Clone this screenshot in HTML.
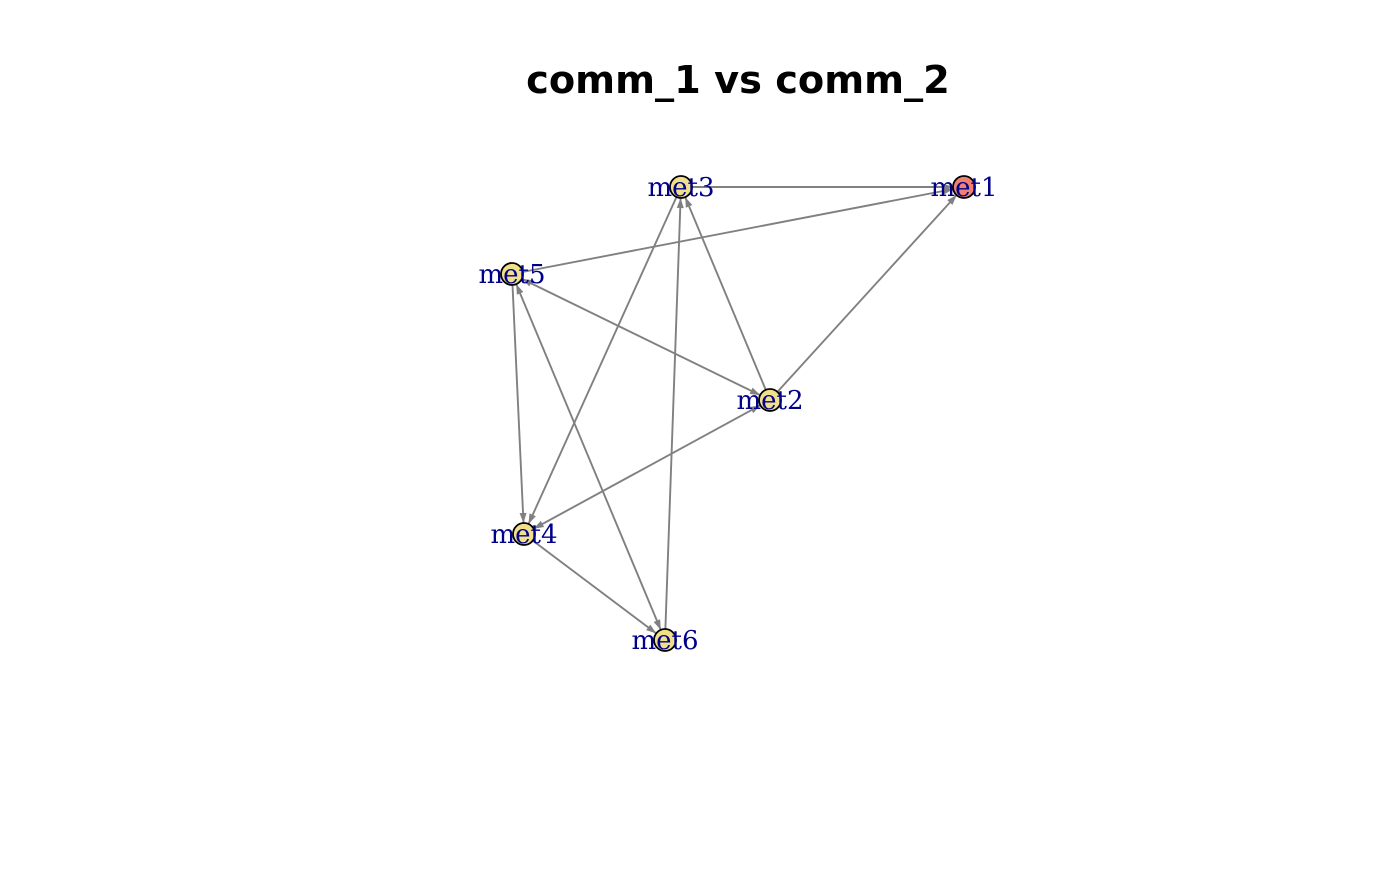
<!DOCTYPE html>
<html><head><meta charset="utf-8"><style>
html,body{margin:0;padding:0;background:#fff;}
</style></head><body>
<svg width="1400" height="866" xmlns="http://www.w3.org/2000/svg">
<defs>
<marker id="a" markerUnits="userSpaceOnUse" markerWidth="40" markerHeight="20" refX="21" refY="3.5" orient="auto-start-reverse" style="overflow:visible">
<path d="M0,0 L10,3.5 L0,7 z" fill="#808080"/>
</marker>
</defs>
<rect width="1400" height="866" fill="#fff"/>
<text x="738" y="93" text-anchor="middle" font-family="'DejaVu Sans','Liberation Sans',sans-serif" font-weight="bold" font-size="38.3">comm_1 vs comm_2</text>
<g stroke="#808080" stroke-width="1.9" fill="none">
<line x1="681" y1="187" x2="964" y2="187" marker-end="url(#a)"/>
<line x1="512" y1="274" x2="964" y2="187" marker-end="url(#a)"/>
<line x1="770" y1="400" x2="964" y2="187" marker-end="url(#a)"/>
<line x1="770" y1="400" x2="681" y2="187" marker-end="url(#a)"/>
<line x1="665" y1="640" x2="681" y2="187" marker-end="url(#a)"/>
<line x1="681" y1="187" x2="524" y2="534" marker-end="url(#a)"/>
<line x1="512" y1="274" x2="524" y2="534" marker-end="url(#a)"/>
<line x1="512" y1="274" x2="770" y2="400" marker-start="url(#a)" marker-end="url(#a)"/>
<line x1="512" y1="274" x2="665" y2="640" marker-start="url(#a)" marker-end="url(#a)"/>
<line x1="524" y1="534" x2="770" y2="400" marker-start="url(#a)" marker-end="url(#a)"/>
<line x1="524" y1="534" x2="665" y2="640" marker-end="url(#a)"/>
</g>
<g stroke="#000" stroke-width="1.8">
<circle cx="681" cy="187" r="11" fill="#F0E08A"/>
<circle cx="964" cy="187" r="11" fill="#F08070"/>
<circle cx="512" cy="274" r="11" fill="#F0E08A"/>
<circle cx="770" cy="400" r="11" fill="#F0E08A"/>
<circle cx="524" cy="534" r="11" fill="#F0E08A"/>
<circle cx="665" cy="640" r="11" fill="#F0E08A"/>
</g>
<g font-family="'DejaVu Serif','Liberation Serif',serif" font-size="26" fill="#00008B" text-anchor="middle">
<text x="681" y="196">met3</text>
<text x="964" y="196">met1</text>
<text x="512" y="283">met5</text>
<text x="770" y="409">met2</text>
<text x="524" y="543">met4</text>
<text x="665" y="649">met6</text>
</g>
</svg>
</body></html>
